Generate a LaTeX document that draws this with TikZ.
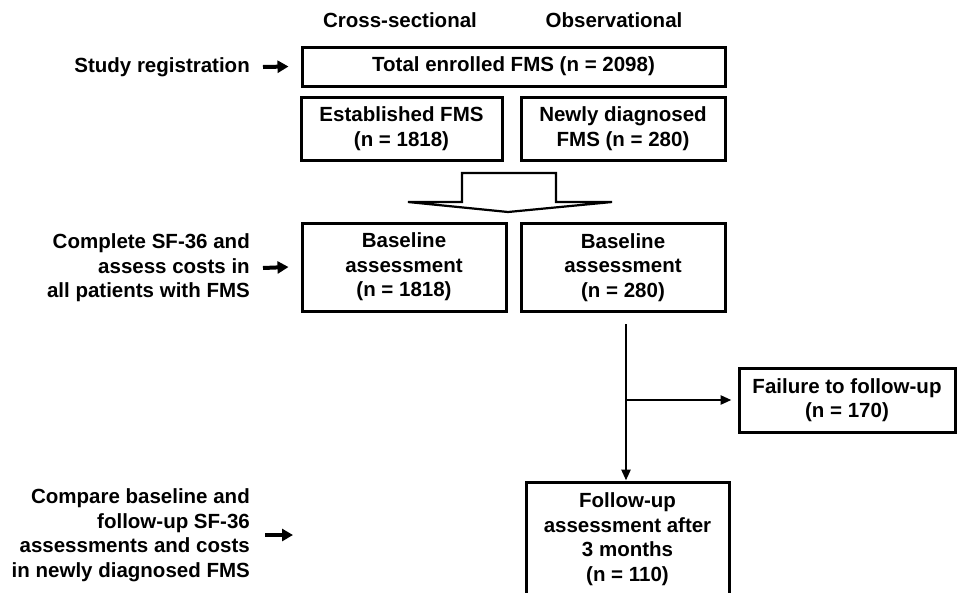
\documentclass[tikz,border=0pt]{standalone}
\usepackage{fontspec}
\setmainfont{Liberation Sans}
\usetikzlibrary{arrows.meta}
\begin{document}
\begin{tikzpicture}[x=1pt, y=-1pt, font=\fontsize{20.5}{24.5}\selectfont\bfseries,
  box/.style={shape=rectangle, draw=black, line width=3pt, align=center, inner sep=0pt},
  side/.style={align=right, anchor=east, inner sep=0pt},
  fat/.style={-{Triangle[length=11pt,width=12pt]}, line width=4pt},
  slim/.style={-{Triangle[length=11pt,width=9pt]}, line width=2.6pt}]
\useasboundingbox (0,0) rectangle (957,592);
\node (cross) at (400,20) {Cross-sectional};
\node (obs) at (614,20) {Observational};
\node[side] (study) at (250,67) {Study registration};
\node[side] (complete) at (250,268) {Complete SF-36 and\\assess costs in\\all patients with FMS};
\node[side] (compare) at (250,535) {Compare baseline and\\follow-up SF-36\\assessments and costs\\in newly diagnosed FMS};
\node[box, minimum width=423pt, minimum height=39pt] (total) at (513.5,66.5) {Total enrolled FMS (n = 2098)};
\node[box, minimum width=201pt, minimum height=63pt] (estab) at (401.5,128.5) {Established FMS\\(n = 1818)};
\node[box, minimum width=204pt, minimum height=63pt] (newly) at (623,128.5) {Newly diagnosed\\FMS (n = 280)};
\node[box, minimum width=204pt, minimum height=88pt] (base1) at (404,267) {Baseline\\assessment\\(n = 1818)};
\node[box, minimum width=204pt, minimum height=88pt] (base2) at (623,267.5) {Baseline\\assessment\\(n = 280)};
\node[box, minimum width=216pt, minimum height=64pt] (fail) at (847,400) {Failure to follow-up\\(n = 170)};
\node[box, minimum width=203pt, minimum height=114pt] (follow) at (627.5,539) {Follow-up\\assessment after\\3 months\\(n = 110)};
% hollow arrow between the rows
\draw[line width=2.2pt, line join=miter] (462,173) -- (556,173) -- (556,202) -- (612,202)
  -- (508,212) -- (408,202) -- (462,202) -- cycle;
\coordinate (cmpend) at (293,535);
\coordinate (vtop) at (626,324);
\coordinate (split) at (626,400);
\path [fat] ([xshift=13pt]study.east) edge ([xshift=-12pt]total.west);
\path [fat] ([xshift=13pt]complete.east) edge ([xshift=-12pt]base1.west);
\path [fat] ([xshift=15pt]compare.east) edge (cmpend);
\draw [line width=2.6pt] (vtop) -- (split);
\path [slim] (split) edge (vtop |- follow.north);
\path [slim] (split) edge ([xshift=-6pt]fail.west);
\end{tikzpicture}
\end{document}
